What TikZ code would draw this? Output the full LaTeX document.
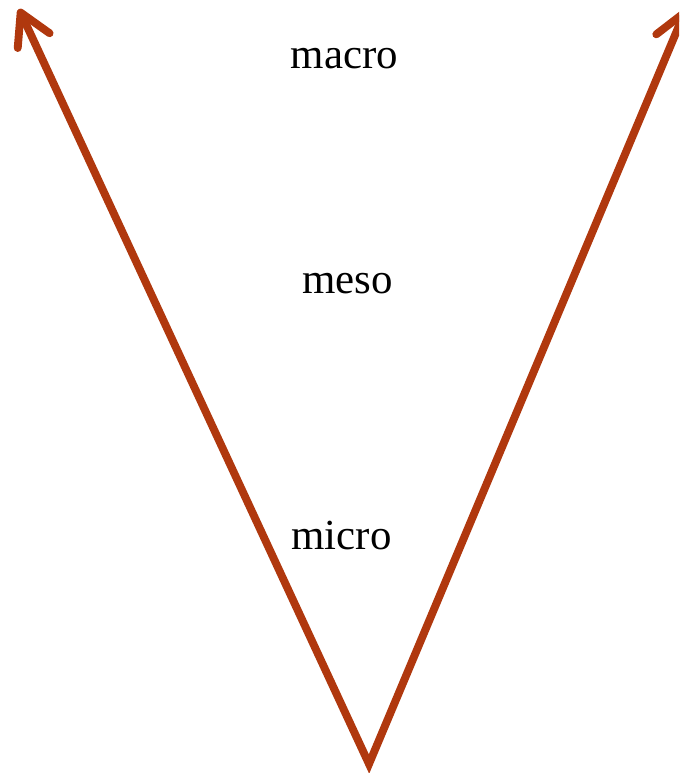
\documentclass[tikz,border=0pt]{standalone}
\usepackage{fontspec}
\setmainfont{Liberation Serif}
\usepackage{tikz}
\usetikzlibrary{arrows.meta}
\definecolor{rust}{RGB}{176,56,14}

\begin{document}
\begin{tikzpicture}[x=0.025cm,y=-0.025cm]

    \useasboundingbox (0,0) rectangle (679,773);
    \clip (0,0) rectangle (679,773);

    \coordinate (base) at (369,764);
    \coordinate (lefttop) at (19,9);
    \coordinate (righttop) at (686,9);
    \draw[rust, line width=5.6pt, line cap=round, line join=miter,
          {Straight Barb[round,length=22pt,width=25pt]}-{Straight Barb[round,length=22pt,width=25pt]}]
        (lefttop) -- (base) -- (righttop);

    \node[anchor=base, font=\fontsize{30.5}{36}\selectfont] (macro) at (344.5,69) {macro};
    \node[anchor=base, font=\fontsize{30.5}{36}\selectfont] (meso) at (347.5,293) {meso};
    \node[anchor=base, font=\fontsize{30.5}{36}\selectfont] (micro) at (341.5,549) {micro};

\end{tikzpicture}
\end{document}
